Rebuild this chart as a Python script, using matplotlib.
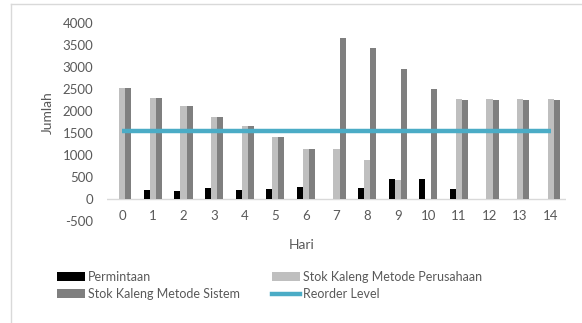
import matplotlib
matplotlib.use("Agg")
import matplotlib.pyplot as plt
from matplotlib.patches import Patch
from matplotlib.lines import Line2D
import numpy as np

hari = list(range(15))
permintaan = [0, 220, 180, 250, 200, 240, 270, 0, 250, 450, 450, 230, 0, 0, 0]
stok_perusahaan = [2520, 2300, 2120, 1870, 1660, 1420, 1140, 1140, 890, 430, 0, 2270, 2270, 2270, 2270]
stok_sistem = [2520, 2300, 2120, 1870, 1660, 1420, 1140, 3660, 3420, 2950, 2490, 2250, 2250, 2250, 2250]
reorder_level = 1540
y_ticks = list(range(-500, 4001, 500))

text_color = "#595959"
c_perm = "#000000"
c_perus = "#BFBFBF"
c_sistem = "#7F7F7F"
c_reorder = "#4BACC6"

plt.rcParams["font.family"] = ["Lato", "DejaVu Sans"]

W, H = 582, 323
fig = plt.figure(figsize=(W / 100, H / 100), dpi=100)

def fx(px):
    return px / W

def fy(py):
    return 1 - py / H

# chart area border (top and left edges visible)
fig.add_artist(Line2D([fx(11), 1], [fy(4), fy(4)], color="#D9D9D9", lw=1.0))
fig.add_artist(Line2D([fx(11), fx(11)], [fy(4), 0], color="#D9D9D9", lw=1.0))

left, right = fx(107), fx(566)
bottom, top = fy(221.4), fy(22.7)
ax = fig.add_axes([left, bottom, right - left, top - bottom])

x = np.arange(len(hari))
w = 0.2
ax.bar(x - w, permintaan, width=w, color=c_perm, zorder=2)
ax.bar(x, stok_perusahaan, width=w, color=c_perus, zorder=2)
ax.bar(x + w, stok_sistem, width=w, color=c_sistem, zorder=2)
ax.plot([x[0], x[-1]], [reorder_level, reorder_level], color=c_reorder, lw=3.2,
        solid_capstyle="butt", zorder=3)
ax.axhline(0, color="#D9D9D9", lw=1.0, zorder=1)

ax.set_xlim(-0.5, len(hari) - 0.5)
ax.set_ylim(-500, 4000)
ax.set_yticks(y_ticks)
ax.set_yticklabels([str(v) for v in y_ticks])
ax.set_xticks(x)
ax.set_xticklabels([str(h) for h in hari])
for s in ax.spines.values():
    s.set_visible(False)
ax.tick_params(axis="y", length=0, pad=10, labelsize=9.5, labelcolor=text_color)
ax.tick_params(axis="x", length=0, pad=-8, labelsize=9.5, labelcolor=text_color)
ax.patch.set_alpha(0)

ax.set_ylabel("Jumlah", fontsize=10, color=text_color)
ax.yaxis.set_label_coords(fx(48), fy(113), transform=fig.transFigure)
ax.yaxis.label.set_verticalalignment("center")

fig.text(fx(302), fy(245), "Hari", fontsize=10, color=text_color, ha="center", va="center")

handles = [
    Patch(facecolor=c_perm, edgecolor="none"),
    Patch(facecolor=c_sistem, edgecolor="none"),
    Patch(facecolor=c_perus, edgecolor="none"),
    Line2D([0], [0], color=c_reorder, lw=3.2),
]
labels = ["Permintaan", "Stok Kaleng Metode Sistem",
          "Stok Kaleng Metode Perusahaan", "Reorder Level"]
leg = fig.legend(handles, labels, ncol=2, loc="upper left",
                 bbox_to_anchor=(fx(56.7), fy(271)), frameon=False,
                 fontsize=9, handlelength=2.25, handleheight=0.65,
                 handletextpad=0.25, columnspacing=2.55, labelspacing=0.4,
                 borderpad=0, borderaxespad=0, labelcolor=text_color)

fig.savefig("out.png", dpi=100)
